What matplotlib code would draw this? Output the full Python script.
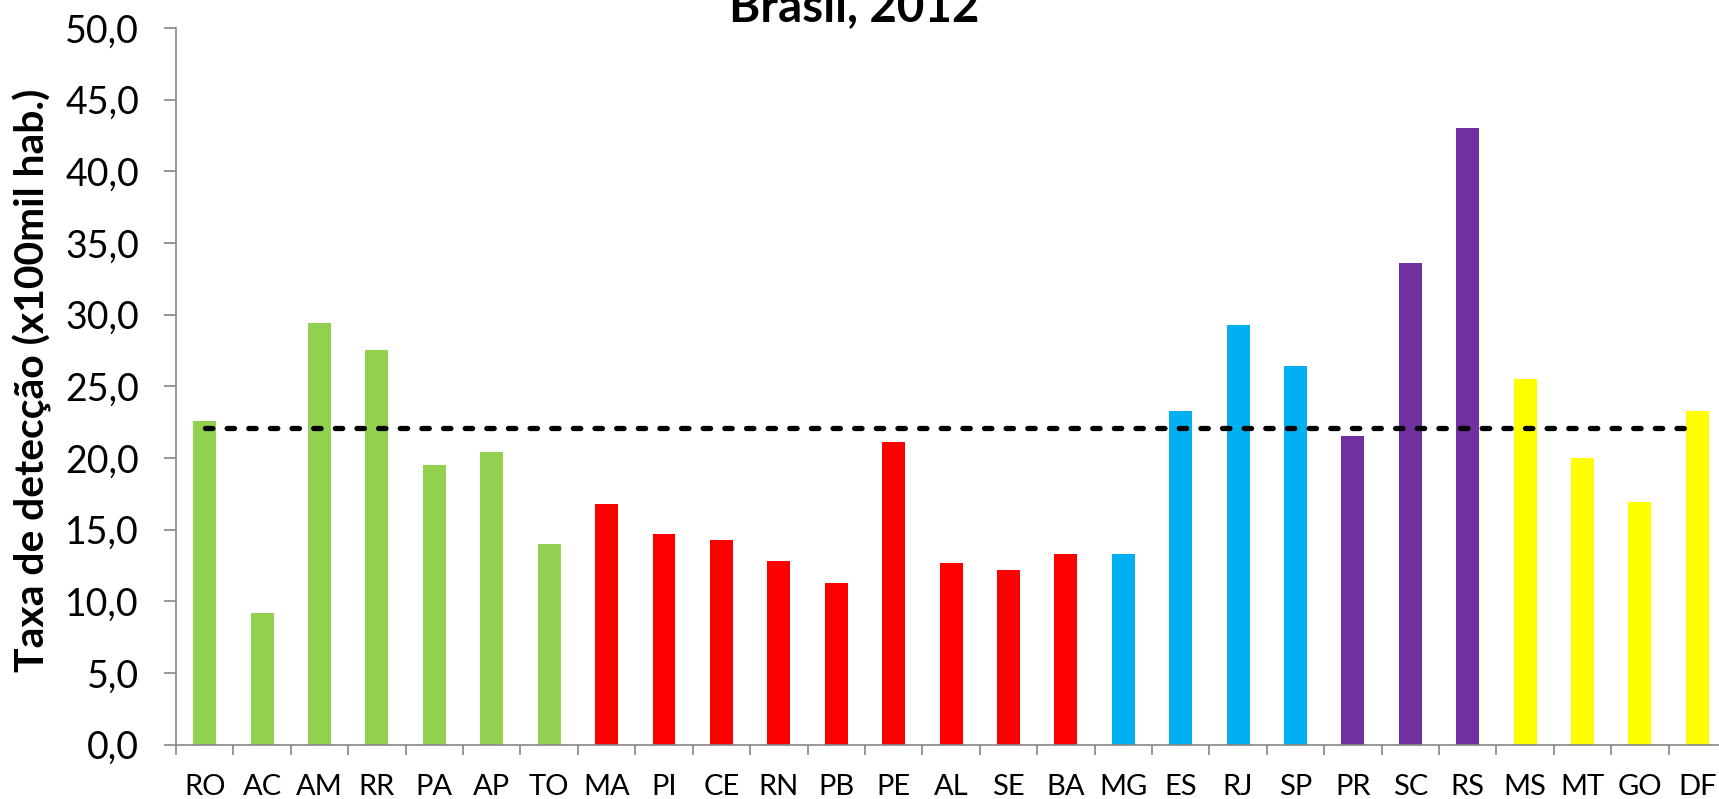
import matplotlib
matplotlib.use("Agg")
import matplotlib.pyplot as plt
from matplotlib.ticker import FixedLocator, FuncFormatter

plt.rcParams['font.family'] = ['Lato', 'DejaVu Sans']

# taxa de deteccao por UF, 2012
ufs = ['RO', 'AC', 'AM', 'RR', 'PA', 'AP', 'TO',
       'MA', 'PI', 'CE', 'RN', 'PB', 'PE', 'AL', 'SE', 'BA',
       'MG', 'ES', 'RJ', 'SP',
       'PR', 'SC', 'RS',
       'MS', 'MT', 'GO', 'DF']
taxa = [22.6, 9.2, 29.4, 27.5, 19.5, 20.4, 14.0,
        16.8, 14.7, 14.3, 12.8, 11.3, 21.1, 12.7, 12.2, 13.3,
        13.3, 23.3, 29.3, 26.4,
        21.5, 33.6, 43.0,
        25.5, 20.0, 16.9, 23.3]
regiao = ['N'] * 7 + ['NE'] * 9 + ['SE'] * 4 + ['S'] * 3 + ['CO'] * 4
media_brasil = 22.1

cores = {'N': '#92D050', 'NE': '#FF0000', 'SE': '#00B0F0', 'S': '#7030A0', 'CO': '#FFFF00'}

fig = plt.figure(figsize=(17.19, 7.99), dpi=100)
ax = fig.add_axes([0.1024, 0.068, 0.9017, 0.897])

x = list(range(len(ufs)))
ax.bar(x, taxa, width=0.4, color=[cores[r] for r in regiao], zorder=2)
ax.plot(x, [media_brasil] * len(x), color='black', lw=3.8, ls=(0, (1.4, 2.7)),
        dash_capstyle='round', zorder=3)

ax.set_xlim(-0.5, len(ufs) - 0.5)
ax.set_ylim(0, 50)
ax.set_yticks([i * 5 for i in range(11)])
ax.yaxis.set_major_formatter(FuncFormatter(lambda v, p: f"{v:.1f}".replace('.', ',')))

ax.set_xticks(x)
ax.set_xticklabels(ufs, fontsize=21)
ax.xaxis.set_minor_locator(FixedLocator([i - 0.5 for i in range(len(ufs) + 1)]))
ax.tick_params(axis='x', which='major', length=0, pad=21)
ax.tick_params(axis='x', which='minor', length=7.4, color='#868686', width=1.2)
ax.tick_params(axis='y', labelsize=27, length=8.6, color='#868686', width=1.2, pad=18)

for s in ['top', 'right']:
    ax.spines[s].set_visible(False)
for s in ['left', 'bottom']:
    ax.spines[s].set_color('#868686')
    ax.spines[s].set_linewidth(1.2)

ylab = fig.text(0.019, 0.524, 'Taxa de detecção (x100mil hab.)', rotation=90,
                ha='center', va='center', fontsize=28, fontweight='bold')
titulo = fig.text(0.497, 0.9737, 'Brasil, 2012', ha='center', va='baseline',
                  fontsize=32, fontweight='bold')

# ajustar tamanho dos textos ao comprimento medido na figura original
r = fig.canvas.get_renderer()
fs = ylab.get_fontsize()
ylab.set_fontsize(fs * 584 / ylab.get_window_extent(r).height)
fs = titulo.get_fontsize()
titulo.set_fontsize(fs * 251 / titulo.get_window_extent(r).width)

fig.savefig('out.png', dpi=100)
